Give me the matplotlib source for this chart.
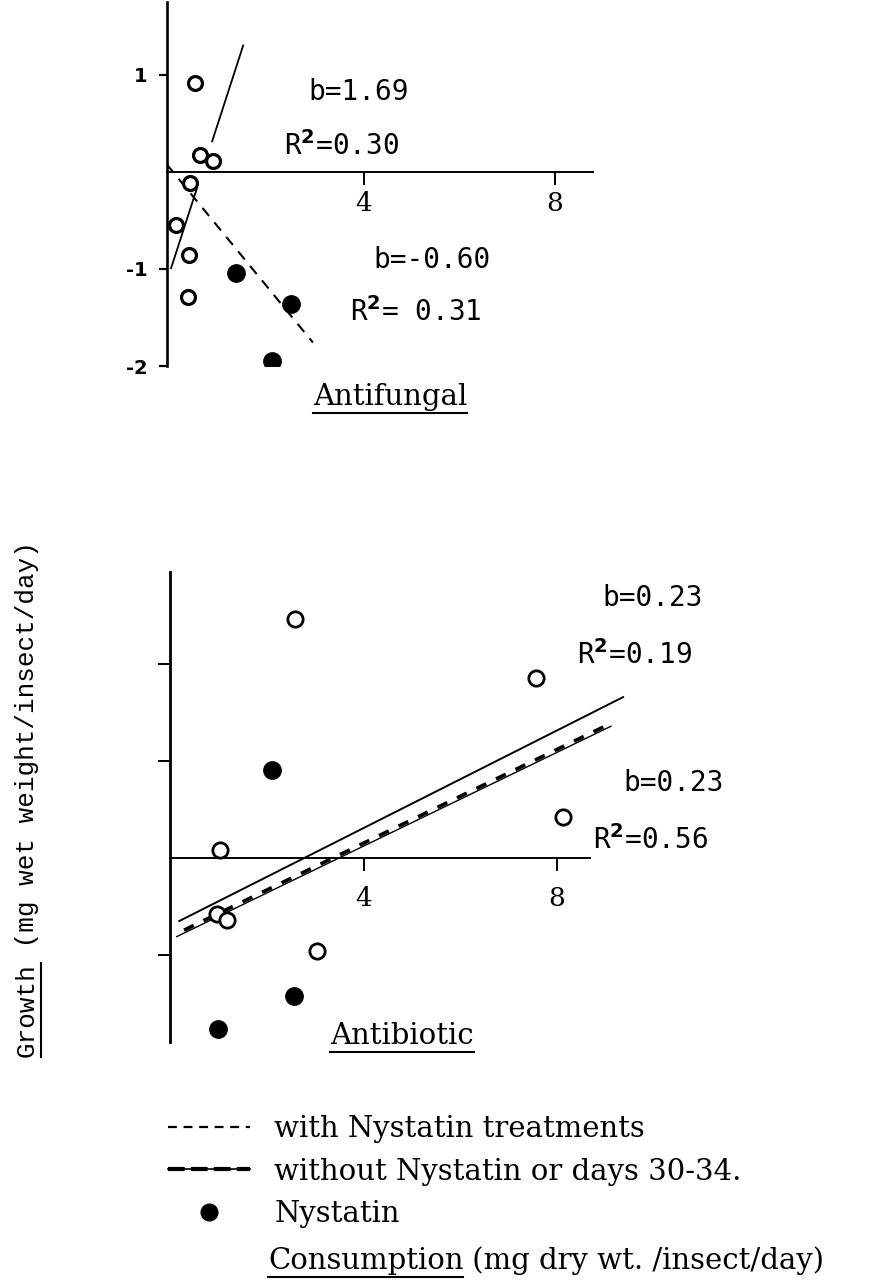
import matplotlib.pyplot as plt
from matplotlib.lines import Line2D

W, H = 876, 1281

# ---- Antifungal panel (top) ----
af_open_x = [0.46, 0.57, 0.84, 0.36, 0.06, 0.34, 0.31]
af_open_y = [0.92, 0.18, 0.11, -0.11, -0.55, -0.86, -1.29]
af_nys_x = [1.32, 2.47, 2.07]
af_nys_y = [-1.04, -1.36, -1.95]
# regression lines: slope, intercept, drawn x-spans
af_solid_b, af_solid_a = 1.52, -0.93
af_solid_spans = [(-0.04, 0.50), (0.82, 1.47)]
af_dash_b, af_dash_a = -0.60, 0.0
af_dash_spans = [(-0.13, 2.93)]
af_notes = ["b=1.69", r"R$^{\mathbf{2}}$=0.30", "b=-0.60", r"R$^{\mathbf{2}}$= 0.31"]

# ---- Antibiotic panel (bottom) ----
ab_open_x = [2.57, 7.56, 8.12, 1.02, 0.95, 1.16, 3.03]
ab_open_y = [2.46, 1.86, 0.42, 0.08, -0.58, -0.64, -0.96]
ab_nys_x = [2.09, 2.55, 0.97]
ab_nys_y = [0.91, -1.42, -1.76]
ab_upper_b, ab_upper_a = 0.251, -0.693
ab_upper_span = (0.17, 9.37)
ab_lower_b, ab_lower_a = 0.241, -0.839
ab_lower_span = (0.12, 9.12)
ab_notes = ["b=0.23", r"R$^{\mathbf{2}}$=0.19", "b=0.23", r"R$^{\mathbf{2}}$=0.56"]

x_ticks = [4, 8]
af_yticks = [1, -1, -2]
ab_yticks = [2, 1, -1]

legend_labels = ["with Nystatin treatments", "without Nystatin or days 30-34.", "Nystatin"]

SERIF = "DejaVu Serif"
MONO = "DejaVu Sans Mono"
TXT = 21

fig = plt.figure(figsize=(W / 100, H / 100), dpi=100)


def frac(px, py):
    return px / W, 1 - py / H


def make_axes(x0, ux, y0, uy, xlim, ylim):
    # pixel calibration -> axes rectangle
    left = x0 + xlim[0] * ux
    right = x0 + xlim[1] * ux
    top = y0 - ylim[1] * uy
    bottom = y0 - ylim[0] * uy
    ax = fig.add_axes([left / W, 1 - bottom / H, (right - left) / W, (bottom - top) / H])
    ax.set_xlim(*xlim)
    ax.set_ylim(*ylim)
    ax.patch.set_alpha(0)
    for s in ["top", "right"]:
        ax.spines[s].set_visible(False)
    ax.spines["bottom"].set_position(("data", 0))
    return ax


def line(ax, b, a, span, **kw):
    xs = [span[0], span[1]]
    ax.plot(xs, [a + b * x for x in xs], color="black", **kw)


# top panel
ax1 = make_axes(173, 47.75, 172, 97, (-0.13, 9.0), (-2.0, 1.75))
ax1.spines["left"].set_linewidth(1.9)
ax1.spines["bottom"].set_linewidth(1.4)
ax1.spines["bottom"].set_bounds(-0.13, 8.8)
ax1.set_xticks(x_ticks)
ax1.set_xticklabels([str(t) for t in x_ticks], fontfamily=SERIF, fontsize=19)
ax1.set_yticks(af_yticks)
ax1.set_yticklabels([str(t) for t in af_yticks], fontfamily="DejaVu Sans",
                    fontweight="bold", fontsize=14)
ax1.tick_params(axis="x", length=9, width=1.4, pad=5)
ax1.tick_params(axis="y", length=6, width=1.6, pad=8)

for s in af_solid_spans:
    line(ax1, af_solid_b, af_solid_a, s, lw=1.3)
for s in af_dash_spans:
    line(ax1, af_dash_b, af_dash_a, s, lw=1.5, dashes=(5, 4))
ax1.plot(af_open_x, af_open_y, "o", mfc="white", mec="black", ms=10, mew=2.3)
ax1.plot(af_nys_x, af_nys_y, "o", color="black", ms=12.5)

# bottom panel
ax2 = make_axes(171, 48.25, 858, 97, (-0.02, 9.5), (-1.9, 2.95))
ax2.spines["left"].set_linewidth(2.0)
ax2.spines["bottom"].set_linewidth(1.4)
ax2.spines["bottom"].set_bounds(-0.02, 8.68)
ax2.set_xticks(x_ticks)
ax2.set_xticklabels([str(t) for t in x_ticks], fontfamily=SERIF, fontsize=19)
ax2.set_yticks(ab_yticks)
ax2.set_yticklabels([])
ax2.tick_params(axis="x", length=9, width=1.4, pad=11)
ax2.tick_params(axis="y", length=9, width=1.4)

line(ax2, ab_upper_b, ab_upper_a, ab_upper_span, lw=1.4)
line(ax2, ab_lower_b, ab_lower_a, ab_lower_span, lw=1.0)
line(ax2, ab_lower_b, ab_lower_a + 0.03, (ab_lower_span[0] + 0.15, ab_lower_span[1] - 0.1),
     lw=2.6, dashes=(3, 3))
ax2.plot(ab_open_x, ab_open_y, "o", mfc="white", mec="black", ms=11, mew=2.0)
ax2.plot(ab_nys_x, ab_nys_y, "o", color="black", ms=12.5)

# regression annotations
note_pos_top = [(308, 92), (284, 146), (373, 260), (350, 312)]
note_pos_bot = [(602, 598), (577, 655), (623, 783), (593, 840)]
for txt, (px, py) in zip(af_notes + ab_notes, note_pos_top + note_pos_bot):
    fig.text(*frac(px, py), txt, fontfamily=MONO, fontsize=20, ha="left", va="center")

renderer = fig.canvas.get_renderer()


def underline(t, off=3, lw=1.5):
    bb = t.get_window_extent(renderer)
    y = bb.y0 - off
    fig.add_artist(Line2D([bb.x0 / W, bb.x1 / W], [y / H, y / H],
                          transform=fig.transFigure, color="black", lw=lw))
    return bb


t = fig.text(*frac(313, 397), "Antifungal", fontfamily=SERIF, fontsize=TXT,
             ha="left", va="center")
underline(t, off=2)
t = fig.text(*frac(330, 1036), "Antibiotic", fontfamily=SERIF, fontsize=TXT,
             ha="left", va="center")
underline(t, off=2)

# x-axis caption
t = fig.text(*frac(268, 1261), "Consumption", fontfamily=SERIF, fontsize=TXT,
             ha="left", va="center")
bb = underline(t, off=2)
fig.text(bb.x1 / W, 1 - 1261 / H, " (mg dry wt. /insect/day)", fontfamily=SERIF,
         fontsize=TXT, ha="left", va="center")

# y-axis caption, rotated
t = fig.text(*frac(27, 1057), "Growth", fontfamily="Liberation Mono", fontsize=18.7,
             rotation=90, ha="center", va="bottom")
bb = t.get_window_extent(renderer)
xu = (bb.x1 + 2) / W
fig.add_artist(Line2D([xu, xu], [bb.y0 / H, bb.y1 / H], transform=fig.transFigure,
                      color="black", lw=1.5))
fig.text(27 / W, bb.y1 / H, " (mg wet weight/insect/day)", fontfamily="Liberation Mono",
         fontsize=18.7, rotation=90, ha="center", va="bottom")

# legend
h_dash = Line2D([], [], color="black", lw=1.6, dashes=(4, 3))
h_solid = Line2D([], [], color="black", lw=1.2)
h_thick = Line2D([], [], color="black", lw=3.0, dashes=(4, 1.5))
h_dot = Line2D([], [], ls="none", marker="o", color="black", ms=12)
fig.legend([h_dash, (h_solid, h_thick), h_dot], legend_labels, loc="upper left",
           bbox_to_anchor=frac(168, 1115), frameon=False, borderpad=0,
           borderaxespad=0, handlelength=2.8, handletextpad=0.85, labelspacing=0.5,
           prop={"family": SERIF, "size": TXT})

fig.savefig("out.png", dpi=100)
